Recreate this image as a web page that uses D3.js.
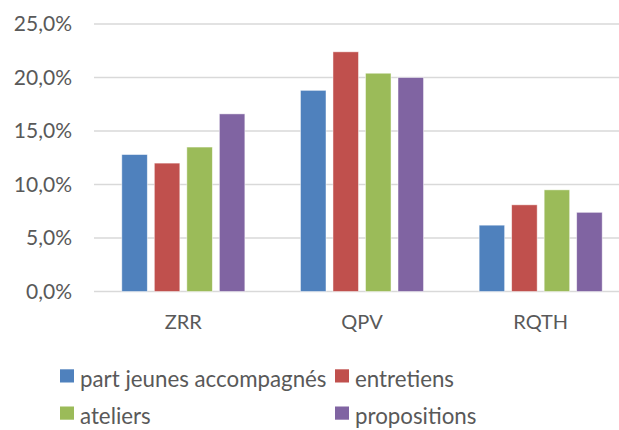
<!DOCTYPE html>
<html>
<head>
<meta charset="utf-8">
<script src="https://cdn.jsdelivr.net/npm/d3@7"></script>
<style>
  body { margin: 0; background: #fff; }
  svg { display: block; font-family: Lato, "Open Sans", sans-serif; }
</style>
</head>
<body>
<svg id="chartSvg" width="619" height="430"></svg>
<script>
const categories = ["ZRR", "QPV", "RQTH"];
const seriesNames = ["part jeunes accompagnés", "entretiens", "ateliers", "propositions"];
const seriesColors = ["#4F81BD", "#C0504D", "#9BBB59", "#8064A2"];
// values in %, one array per series (ZRR, QPV, RQTH)
const partJeunes = [12.8, 18.8, 6.2];
const entretiens = [12.0, 22.4, 8.1];
const ateliers = [13.5, 20.4, 9.5];
const propositions = [16.6, 20.0, 7.4];
const yTicks = [0, 5, 10, 15, 20, 25];

const seriesValues = [partJeunes, entretiens, ateliers, propositions];

const svg = d3.select("#chartSvg");

const margin = { top: 24, left: 94 };
const plotRight = 630;   // plot area runs past the right edge, as in the picture
const baseline = 291.5;

const x = d3.scaleBand()
    .domain(categories)
    .range([margin.left, plotRight]);

const xSeries = d3.scaleBand()
    .domain(seriesNames)
    .range([27.8, x.bandwidth() - 27.8])
    .paddingInner(0.215);

const y = d3.scaleLinear()
    .domain([0, 25])
    .range([baseline, margin.top]);

// gridlines
svg.append("g")
    .selectAll("line")
    .data(yTicks)
    .enter().append("line")
    .attr("x1", margin.left)
    .attr("x2", 619)
    .attr("y1", d => y(d))
    .attr("y2", d => y(d))
    .attr("stroke", "#d9d9d9")
    .attr("stroke-width", 1.5);

// y axis labels
const yAxis = svg.append("g")
    .attr("transform", `translate(72,0)`)
    .call(d3.axisLeft(y).tickValues(yTicks).tickSize(0).tickPadding(0)
        .tickFormat(d => d.toFixed(1).replace(".", ",") + "%"));
yAxis.select(".domain").remove();
yAxis.selectAll("text")
    .attr("fill", "#595959")
    .style("font-size", "21px")
    .style("font-family", "Lato, 'Open Sans', sans-serif");

// bars
const groups = svg.append("g")
    .selectAll("g")
    .data(categories)
    .enter().append("g")
    .attr("transform", c => `translate(${x(c)},0)`);

groups.selectAll("rect")
    .data((c, ci) => seriesNames.map((s, si) => ({ s, si, v: seriesValues[si][ci] })))
    .enter().append("rect")
    .attr("x", d => xSeries(d.s))
    .attr("y", d => y(d.v))
    .attr("width", xSeries.bandwidth())
    .attr("height", d => baseline - y(d.v))
    .attr("fill", d => seriesColors[d.si])
    .attr("stroke", "#ffffff")
    .attr("stroke-opacity", 0.6)
    .attr("stroke-width", 0.8);

// x axis labels
const xAxis = svg.append("g")
    .attr("transform", `translate(0,329.3)`)
    .call(d3.axisBottom(x).tickSize(0).tickPadding(0));
xAxis.select(".domain").remove();
xAxis.selectAll("text")
    .attr("fill", "#595959")
    .attr("y", 0)
    .attr("dy", 0)
    .style("font-size", "20px")
    .style("font-family", "Lato, 'Open Sans', sans-serif");

// legend, two rows
const legendPos = [
    { x: 60, y: 369.3 }, { x: 335, y: 369.3 },
    { x: 60, y: 406.5 }, { x: 335, y: 406.5 }
];
const legend = svg.append("g")
    .selectAll("g")
    .data(seriesNames)
    .enter().append("g")
    .attr("transform", (d, i) => `translate(${legendPos[i].x},${legendPos[i].y})`);

legend.append("rect")
    .attr("width", 14)
    .attr("height", 13.2)
    .attr("fill", (d, i) => seriesColors[i]);

legend.append("text")
    .attr("x", 20)
    .attr("y", 17.5)
    .attr("fill", "#595959")
    .style("font-size", "22.3px")
    .text(d => d);
</script>
</body>
</html>
